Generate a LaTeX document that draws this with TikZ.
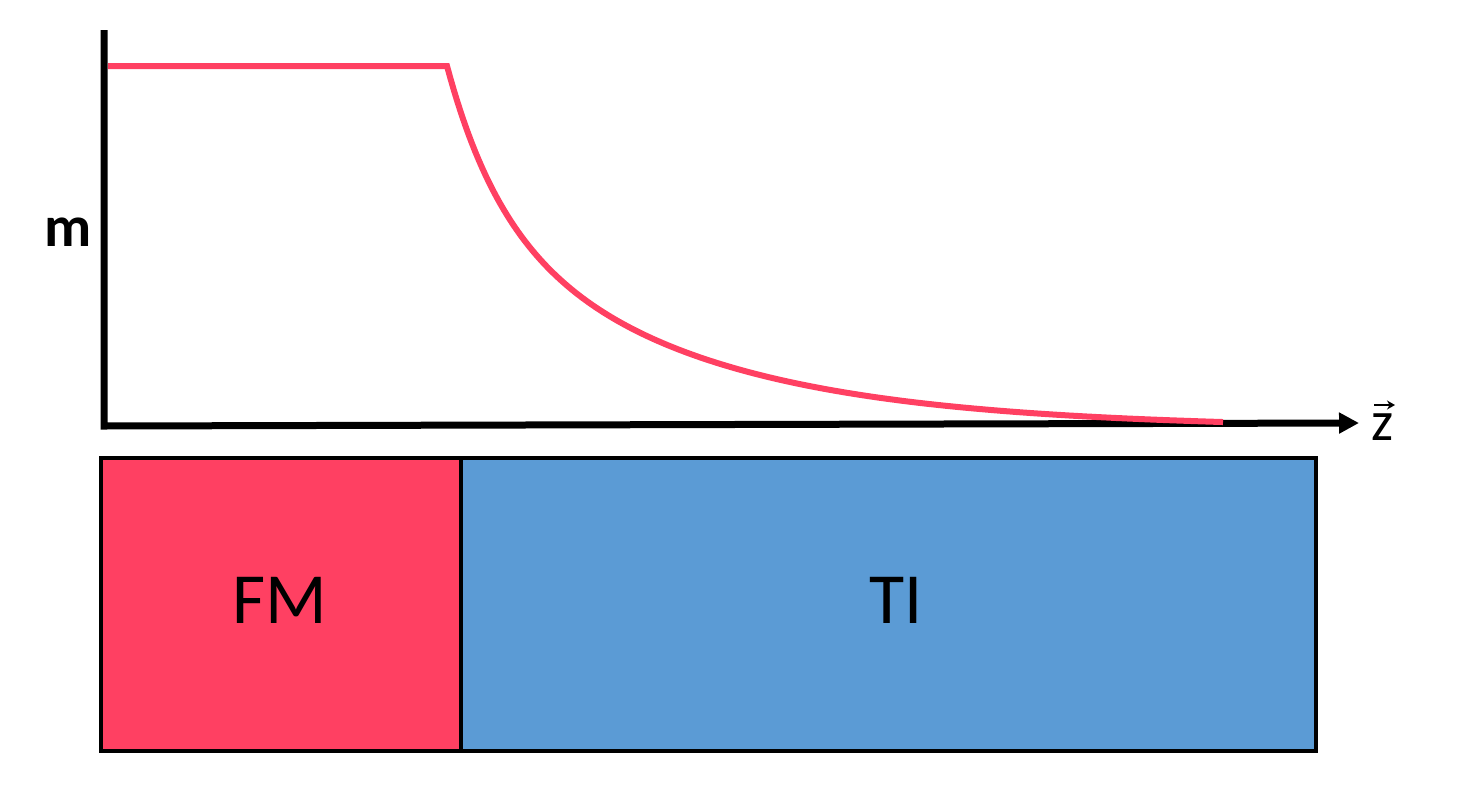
\documentclass[tikz,border=0pt]{standalone}
\usepackage{fontspec}
\setmainfont{Carlito}
\usetikzlibrary{arrows.meta}
\definecolor{fmred}{HTML}{FF4062}
\definecolor{tiblue}{HTML}{5B9BD5}
\tikzset{
  axisline/.style={line width=3.5pt, black, line join=miter},
  mcurve/.style={line width=3pt, fmred, line join=miter},
  layer/.style={draw=black, line width=2pt, inner sep=0pt, outer sep=0pt},
  layerlabel/.style={inner sep=0pt, font=\fontsize{36}{40}\selectfont},
}
\begin{document}
\begin{tikzpicture}[x=0.5pt,y=-0.5pt]
\useasboundingbox (0,0) rectangle (1472,793);
% layers
\node[layer, fill=fmred, minimum width=180pt, minimum height=146.5pt] (fm) at (281,604.5) {};
\node[layer, fill=tiblue, minimum width=427.5pt, minimum height=146.5pt] (ti) at (888.5,604.5) {};
\node[layerlabel] (fmt) at (280,600) {FM};
\node[layerlabel] (tit) at (896,600) {TI};
% axes
\coordinate (ytop) at (104,30);
\coordinate (orig) at (104,426);
\coordinate (xend) at (1359,423);
\draw[axisline, -{Triangle[length=10pt,width=10pt]}] (ytop) -- (orig) -- (xend);
\node[inner sep=0pt, font=\bfseries\fontsize{29}{32}\selectfont] (mlab) at (68,232) {m};
\node[inner sep=0pt, font=\fontsize{28}{32}\selectfont] (zlab) at (1383,427) {z};
\coordinate (za) at (1374,405);
\coordinate (zb) at (1395,405);
\draw[line width=1pt, -{Stealth[length=4pt,width=4.5pt]}] (za) -- (zb);
% magnetization curve
\coordinate (m0) at (108,66);
\draw[mcurve] (m0) -- plot[domain=0:776, samples=220, variable=\u]
  ({447+\u}, {425-132*exp(-\u/50)-227*exp(-\u/209)+0.0033*\u});
\end{tikzpicture}
\end{document}
